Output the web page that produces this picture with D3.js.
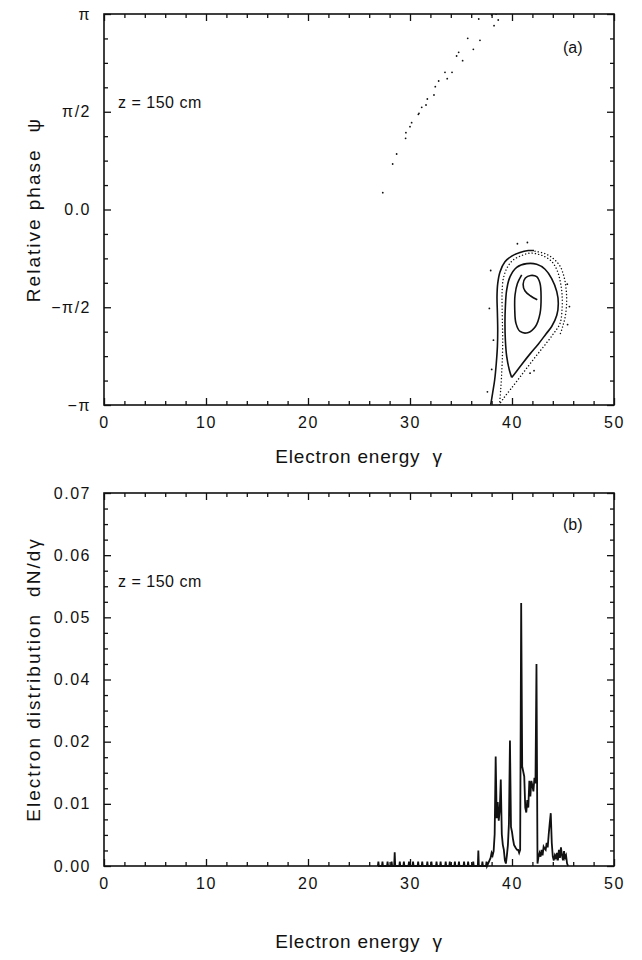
<!DOCTYPE html>
<meta charset="utf-8">
<script src="https://d3js.org/d3.v7.min.js"></script>
<style>
  body { margin: 0; background: #fff; }
  svg text { font-family: "Liberation Sans", Arial, sans-serif; fill: #111; }
</style>
<div id="chart"></div>
<script>
// ---------- data ----------
var xTicks = [0, 10, 20, 30, 40, 50];
var xLabels = ["0", "10", "20", "30", "40", "50"];
var phaseTicks = [-Math.PI, -Math.PI / 2, 0, Math.PI / 2, Math.PI];
var phaseLabels = ["\u2212\u03c0", "\u2212\u03c0/2", "0.0", "\u03c0/2", "\u03c0"];
// the printed axis skips 0.03, labels kept as printed
var distTicks = [0, 0.01, 0.02, 0.04, 0.05, 0.06, 0.07];
var distLabels = ["0.00", "0.01", "0.02", "0.04", "0.05", "0.06", "0.07"];

// (a) phase space, [gamma, psi]
var outerSolid = [[37.91,-3.14],[38.10,-2.95],[38.30,-2.74],[38.46,-2.47],[38.57,-2.20],[38.60,-1.94],
  [38.57,-1.67],[38.53,-1.40],[38.60,-1.19],[38.83,-1.00],[39.31,-0.84],[39.97,-0.75],[40.78,-0.69],
  [41.60,-0.66],[42.16,-0.66]];
var middleSolid = [[39.97,-2.70],[39.74,-2.58],[39.48,-2.36],[39.35,-2.10],[39.31,-1.83],[39.35,-1.56],
  [39.48,-1.29],[39.81,-1.08],[40.46,-0.93],[41.44,-0.87],[42.42,-0.88],[43.24,-0.96],[43.89,-1.11],
  [44.39,-1.32],[44.54,-1.51],[44.39,-1.70],[43.89,-1.88],[43.33,-2.00],[42.59,-2.16],[41.77,-2.32],
  [40.95,-2.49],[40.30,-2.63],[39.97,-2.70]];
var innerSolid = [[42.48,-1.45],[41.83,-1.39],[41.28,-1.31],[41.09,-1.20],[41.31,-1.10],[41.83,-1.06],
  [42.42,-1.08],[42.75,-1.19],[42.85,-1.40],[42.75,-1.67],[42.30,-1.88],[41.54,-1.98],[40.79,-1.96],
  [40.39,-1.83],[40.27,-1.61],[40.30,-1.37],[40.53,-1.19],[40.95,-1.05]];
var dottedInner = [[38.77,-3.14],[38.89,-2.90],[38.99,-2.63],[39.06,-2.36],[39.09,-2.10],[39.06,-1.83],
  [39.03,-1.56],[39.03,-1.32],[39.15,-1.11],[39.54,-0.93],[40.13,-0.81],[40.95,-0.74],[41.77,-0.70],
  [42.59,-0.72],[43.24,-0.76],[43.80,-0.82],[44.22,-0.91],[44.54,-1.03],[44.77,-1.19],[44.91,-1.37],
  [44.91,-1.59],[44.71,-1.83],[44.09,-1.99],[43.21,-2.18],[42.33,-2.36],[41.44,-2.55],[40.56,-2.74],
  [39.81,-2.90],[39.19,-3.03],[38.73,-3.14]];
var dottedOuter = [[42.26,-0.67],[43.24,-0.71],[44.06,-0.79],[44.71,-0.91],[45.10,-1.08],[45.30,-1.27],
  [45.36,-1.48],[45.24,-1.70],[44.97,-1.88],[44.65,-2.04]];
var looseDots = [[40.53,-0.55],[41.51,-0.53],[37.91,-0.98],[37.78,-1.59],[38.18,-2.10],[38.01,-2.57],
  [37.59,-2.93],[45.63,-1.56],[45.42,-1.20],[45.45,-1.85],[41.77,-2.63],[42.16,-2.59],
  // streak of untrapped electrons
  [27.33,0.270],[28.30,0.731],[28.69,0.892],[29.57,1.144],[29.60,1.234],[30.00,1.331],[30.16,1.395],
  [30.82,1.530],[30.88,1.546],[31.15,1.642],[31.57,1.679],[31.70,1.776],[32.35,1.840],[32.48,1.973],
  [32.81,2.065],[33.65,2.102],[33.43,2.205],[34.12,2.205],[34.57,2.467],[34.77,2.526],[35.16,2.391],
  [35.66,2.751],[36.21,2.574],[36.86,2.719],[36.74,3.061],[38.24,2.954],[38.65,3.045],[38.01,3.126],
  [38.44,3.14]];

// (b) distribution: sparse low-energy stubs, then dense bins of 0.1
var stubGamma = [26.9,27.3,27.8,28.2,28.5,29.0,29.4,29.9,30.3,30.8,31.2,31.7,32.1,32.6,33.0,33.5,
  33.9,34.4,34.8,35.3,35.7,36.2,36.7,37.1,37.5];
var stubValue = [0.0007,0.0007,0.0007,0.0007,0.0022,0.0007,0.0007,0.0007,0.0007,0.0007,0.0007,0.0007,
  0.0007,0.0007,0.0007,0.0007,0.0007,0.0007,0.0007,0.0007,0.0007,0.0007,0.0025,0.0007,0.0007];
var binStart = 37.9, binWidth = 0.1;
var binValue = [0.0013,0.0021,0.0017,0.0024,0.0051,0.0176,0.0077,0.0103,0.0073,0.0090,
  0.0139,0.0051,0.0034,0.0026,0.0009,0.0004,0.0017,0.0034,0.0069,0.0204,
  0.0063,0.0055,0.0043,0.0034,0.0031,0.0028,0.0026,0.0026,0.0021,0.0026,
  0.0523,0.0160,0.0152,0.0144,0.0094,0.0086,0.0106,0.0094,0.0137,0.0112,
  0.0137,0.0129,0.0120,0.0142,0.0133,0.0425,0.0004,0.0015,0.0021,0.0015,
  0.0026,0.0017,0.0031,0.0028,0.0026,0.0037,0.0030,0.0051,0.0069,0.0085,
  0.0037,0.0015,0.0009,0.0017,0.0013,0.0021,0.0009,0.0026,0.0013,0.0030,
  0.0017,0.0009,0.0024,0.0013,0.0017,0.0004,0];

// ---------- layout ----------
var W = 642, H = 960;
var left = 104, plotW = 510;
var svg = d3.select("#chart").append("svg").attr("width", W).attr("height", H);

var x = d3.scaleLinear().domain([0, 50]).range([0, plotW]);
var xMinor = d3.range(0, 51, 2).filter(d => d % 10 != 0);

function drawFrame(g, h, y, yTicks, yLabels, yMinor) {
  var fmtX = (d, i) => xLabels[i];
  var fmtY = (d, i) => yLabels[i];
  var axes = [
    d3.axisBottom(x).tickValues(xTicks).tickSize(-7).tickPadding(12).tickFormat(fmtX),
    d3.axisTop(x).tickValues(xTicks).tickSize(-7).tickFormat(""),
    d3.axisLeft(y).tickValues(yTicks).tickSize(-7).tickPadding(13).tickFormat(fmtY),
    d3.axisRight(y).tickValues(yTicks).tickSize(-7).tickFormat(""),
    d3.axisBottom(x).tickValues(xMinor).tickSize(-4).tickFormat(""),
    d3.axisTop(x).tickValues(xMinor).tickSize(-4).tickFormat(""),
    d3.axisLeft(y).tickValues(yMinor).tickSize(-4).tickFormat(""),
    d3.axisRight(y).tickValues(yMinor).tickSize(-4).tickFormat("")
  ];
  var shift = [[0, h], [0, 0], [0, 0], [plotW, 0], [0, h], [0, 0], [0, 0], [plotW, 0]];
  axes.forEach((ax, i) => {
    var a = g.append("g").attr("transform", "translate(" + shift[i] + ")").call(ax);
    a.select(".domain").remove();
    a.selectAll(".tick line").attr("stroke", "#111").attr("stroke-width", 1.3);
    a.selectAll("text").attr("font-size", 16).attr("fill", "#111").attr("letter-spacing", 1.5);
  });
  g.append("rect").attr("width", plotW).attr("height", h)
    .attr("fill", "none").attr("stroke", "#111").attr("stroke-width", 1.6);
}

function axisTitle(g, tx, ty, rot, main, sym, spacing, gap) {
  var t = g.append("text").attr("transform", "translate(" + tx + "," + ty + ") rotate(" + rot + ")")
    .attr("text-anchor", "middle").attr("font-size", 19).attr("letter-spacing", spacing);
  t.append("tspan").text(main);
  t.append("tspan").attr("dx", gap).text(sym);
}

// ---------- panel (a) ----------
var hA = 391;
var ga = svg.append("g").attr("transform", "translate(" + left + ",14)");
var yA = d3.scaleLinear().domain([-Math.PI, Math.PI]).range([hA, 0]);
var phaseMinor = d3.range(-8, 9).filter(k => k % 4 != 0).map(k => k * Math.PI / 8);
drawFrame(ga, hA, yA, phaseTicks, phaseLabels, phaseMinor);

svg.append("clipPath").attr("id", "clipA").append("rect").attr("width", plotW).attr("height", hA);
var pa = ga.append("g").attr("clip-path", "url(#clipA)");
var lineA = d3.line().x(d => x(d[0])).y(d => yA(d[1])).curve(d3.curveCatmullRom);

[outerSolid, middleSolid, innerSolid].forEach(c => {
  pa.append("path").attr("d", lineA(c)).attr("fill", "none").attr("stroke", "#111").attr("stroke-width", 1.6);
});
[dottedInner, dottedOuter].forEach(c => {
  pa.append("path").attr("d", lineA(c)).attr("fill", "none").attr("stroke", "#111")
    .attr("stroke-width", 1.4).attr("stroke-linecap", "round").attr("stroke-dasharray", "0.1,3.2");
});
pa.selectAll("circle").data(looseDots).enter().append("circle")
  .attr("cx", d => x(d[0])).attr("cy", d => yA(d[1])).attr("r", 0.9).attr("fill", "#111");

ga.append("text").attr("x", 14).attr("y", 94).attr("font-size", 16).attr("letter-spacing", 0.5).text("z = 150 cm");
ga.append("text").attr("x", 459).attr("y", 39).attr("font-size", 16).text("(a)");
axisTitle(svg, left + plotW / 2, 463, 0, "Electron energy", "\u03b3", 0.8, 12);
axisTitle(svg, 40, 14 + hA / 2, -90, "Relative phase", "\u03c8", 2, 16);

// ---------- panel (b) ----------
var hB = 373;
var gb = svg.append("g").attr("transform", "translate(" + left + ",493)");
// printed labels are evenly spaced, so map each printed value to an equal step
var yB = d3.scaleLinear().domain(distTicks).range(distTicks.map((d, i) => hB - i * hB / 6));
var distMinor = d3.range(0, 25).filter(i => i % 4 != 0).map(i => yB.invert(hB - i * hB / 24));
drawFrame(gb, hB, yB, distTicks, distLabels, distMinor);

var hist = [];
stubGamma.forEach((g, i) => {
  hist.push([g - binWidth / 2, 0], [g, stubValue[i]], [g + binWidth / 2, 0]);
});
binValue.forEach((v, i) => hist.push([binStart + i * binWidth, v]));
var lineB = d3.line().x(d => x(d[0])).y(d => yB(d[1]));
gb.append("path").attr("d", lineB(hist)).attr("fill", "none").attr("stroke", "#111")
  .attr("stroke-width", 1.8).attr("stroke-linejoin", "miter");

gb.append("text").attr("x", 14).attr("y", 94).attr("font-size", 16).attr("letter-spacing", 0.5).text("z = 150 cm");
gb.append("text").attr("x", 459).attr("y", 37).attr("font-size", 16).text("(b)");
axisTitle(svg, left + plotW / 2, 948, 0, "Electron energy", "\u03b3", 0.8, 12);
axisTitle(svg, 40, 493 + hB / 2, -90, "Electron distribution", "dN/d\u03b3", 2, 16);
</script>
